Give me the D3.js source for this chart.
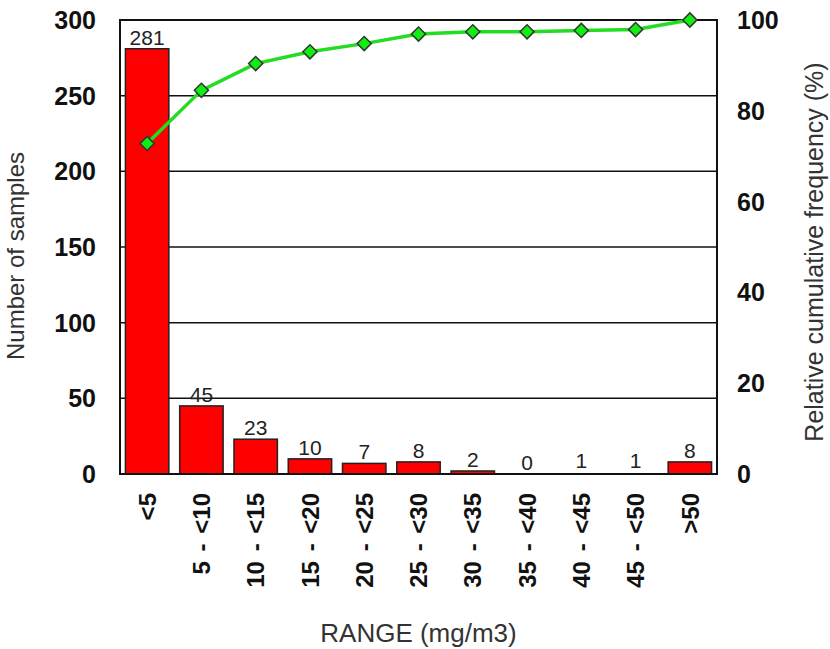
<!DOCTYPE html>
<html>
<head>
<meta charset="utf-8">
<script src="https://cdn.jsdelivr.net/npm/d3@7"></script>
<style>
  html, body { margin: 0; padding: 0; background: #fff; }
  svg { display: block; font-family: "Liberation Sans", Arial, sans-serif; }
</style>
</head>
<body>
<svg id="chart" width="830" height="649"></svg>
<script>
// ── data ──
const ranges = ['<5', '5 - <10', '10 - <15', '15 - <20', '20 - <25', '25 - <30',
                '30 - <35', '35 - <40', '40 - <45', '45 - <50', '>50'];
const samples = [281, 45, 23, 10, 7, 8, 2, 0, 1, 1, 8];
const cumPct = [72.8, 84.5, 90.4, 93.0, 94.8, 96.9, 97.4, 97.4, 97.7, 97.9, 100];
const leftTicks = [0, 50, 100, 150, 200, 250, 300];
const rightTicks = [0, 20, 40, 60, 80, 100];

// ── layout ──
const M = { left: 120, right: 717, top: 20, bottom: 474 };

const svg = d3.select('#chart');

const x = d3.scaleBand().domain(ranges).range([M.left, M.right])
  .paddingInner(0.2).paddingOuter(0.1);
const y = d3.scaleLinear().domain([0, 300]).range([M.bottom, M.top]);
const y2 = d3.scaleLinear().domain([0, 100]).range([M.bottom, M.top]);
const cx = d => x(d) + x.bandwidth() / 2;

// gridlines
svg.append('g').selectAll('line').data(leftTicks.filter(t => t > 0 && t < 300)).enter()
  .append('line')
  .attr('x1', M.left).attr('x2', M.right)
  .attr('y1', d => y(d)).attr('y2', d => y(d))
  .attr('stroke', '#111').attr('stroke-width', 1.5);

// bars (1-sample bars are too thin to show in the original)
svg.append('g').selectAll('rect').data(ranges).enter()
  .append('rect')
  .attr('x', d => x(d))
  .attr('y', (d, i) => y(samples[i]))
  .attr('width', x.bandwidth())
  .attr('height', (d, i) => M.bottom - y(samples[i]))
  .attr('fill', (d, i) => samples[i] > 1 ? '#ff0000' : 'none')
  .attr('stroke', (d, i) => samples[i] > 1 ? '#222' : 'none')
  .attr('stroke-width', 1.5);

// frame
svg.append('rect')
  .attr('x', M.left).attr('y', M.top)
  .attr('width', M.right - M.left).attr('height', M.bottom - M.top)
  .attr('fill', 'none').attr('stroke', '#111').attr('stroke-width', 2);

// value labels
svg.append('g').selectAll('text').data(ranges).enter()
  .append('text')
  .attr('x', d => cx(d))
  .attr('y', (d, i) => y(samples[i]) - 4)
  .attr('text-anchor', 'middle')
  .attr('font-size', 21).attr('fill', '#222')
  .text((d, i) => samples[i]);

// cumulative line
const line = d3.line().x(d => cx(d[0])).y(d => y2(d[1]));
const pts = ranges.map((r, i) => [r, cumPct[i]]);
svg.append('path').datum(pts)
  .attr('d', line)
  .attr('fill', 'none').attr('stroke', '#22dd22').attr('stroke-width', 3.5);

svg.append('g').selectAll('path').data(pts).enter()
  .append('path')
  .attr('d', d3.symbol(d3.symbolSquare, 100))
  .attr('transform', d => `translate(${cx(d[0])},${y2(d[1])}) rotate(45)`)
  .attr('fill', '#11ee11').attr('stroke', '#333').attr('stroke-width', 1.5);

// left axis labels
svg.append('g').selectAll('text').data(leftTicks).enter()
  .append('text')
  .attr('x', 96).attr('y', d => y(d)).attr('dy', '0.36em')
  .attr('text-anchor', 'end')
  .attr('font-size', 25).attr('font-weight', 'bold').attr('fill', '#111')
  .text(d => d);

// right axis labels
svg.append('g').selectAll('text').data(rightTicks).enter()
  .append('text')
  .attr('x', 737).attr('y', d => y2(d)).attr('dy', '0.36em')
  .attr('text-anchor', 'start')
  .attr('font-size', 25).attr('font-weight', 'bold').attr('fill', '#111')
  .text(d => d);

// x tick labels (rotated)
svg.append('g').selectAll('text').data(ranges).enter()
  .append('text')
  .attr('transform', d => `translate(${cx(d)},493) rotate(-90)`)
  .attr('dy', '0.36em')
  .attr('text-anchor', 'end')
  .attr('font-size', 24).attr('font-weight', 'bold').attr('fill', '#111')
  .attr('word-spacing', 3)
  .style('white-space', 'pre')
  .text(d => d);

// axis titles
svg.append('text')
  .attr('x', (M.left + M.right) / 2).attr('y', 642)
  .attr('text-anchor', 'middle')
  .attr('font-size', 26).attr('fill', '#333')
  .text('RANGE (mg/m3)');

svg.append('text')
  .attr('transform', 'translate(24,256) rotate(-90)')
  .attr('text-anchor', 'middle')
  .attr('font-size', 24).attr('fill', '#333')
  .text('Number of samples');

svg.append('text')
  .attr('transform', 'translate(823,252) rotate(-90)')
  .attr('text-anchor', 'middle')
  .attr('font-size', 25).attr('fill', '#333')
  .text('Relative cumulative frequency (%)');
</script>
</body>
</html>
